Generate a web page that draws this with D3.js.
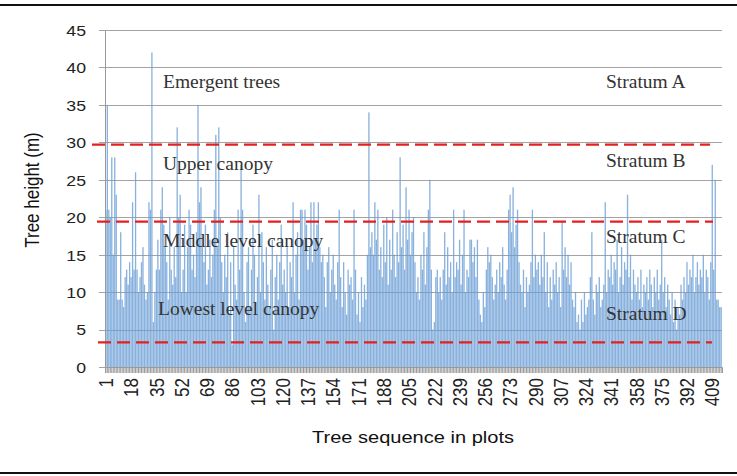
<!DOCTYPE html>
<html>
<head>
<meta charset="utf-8">
<script src="https://cdn.jsdelivr.net/npm/d3@7"></script>
<style>
    body { margin: 0; background: #fff; }
    svg { display: block; }
</style>
</head>
<body>
<div id="chart"><svg></svg></div>
<script>
// tree heights (m), one bar per tree in the plots
var heights = [
    21, 35, 21, 20, 28, 15, 28, 23, 9, 9, 18, 9, 8, 12, 13, 11, 14, 12, 22, 13,
    26, 13, 10, 12, 14, 16, 11, 9, 10, 22, 21, 42, 6, 10, 13, 17, 13, 21, 24, 19,
    16, 14, 9, 20, 13, 11, 16, 12, 32, 20, 23, 10, 13, 19, 10, 16, 21, 19, 13, 15,
    12, 18, 35, 22, 24, 16, 14, 19, 11, 13, 17, 12, 15, 21, 31, 16, 32, 20, 14, 10,
    15, 12, 18, 7, 14, 3, 16, 11, 9, 21, 13, 27, 21, 10, 6, 14, 16, 8, 13, 19,
    15, 7, 12, 23, 10, 18, 14, 9, 16, 11, 8, 13, 17, 5, 12, 15, 9, 14, 19, 11,
    13, 10, 16, 8, 14, 12, 22, 10, 15, 18, 9, 21, 21, 17, 21, 19, 13, 16, 22, 14,
    22, 17, 19, 22, 16, 14, 15, 12, 8, 14, 16, 10, 13, 15, 11, 9, 14, 21, 12, 8,
    14, 10, 7, 13, 11, 12, 9, 21, 13, 7, 10, 6, 12, 8, 11, 9, 15, 34, 16, 18,
    15, 22, 17, 21, 13, 16, 12, 19, 14, 20, 11, 17, 13, 21, 15, 12, 18, 14, 28, 16,
    19, 13, 24, 17, 21, 15, 18, 20, 14, 10, 12, 9, 15, 13, 18, 11, 16, 21, 25, 13,
    5, 6, 12, 13, 10, 12, 9, 13, 18, 11, 16, 12, 14, 10, 21, 12, 14, 13, 17, 11,
    15, 21, 10, 13, 12, 17, 17, 14, 16, 12, 17, 9, 7, 6, 10, 8, 13, 16, 14, 15,
    12, 9, 11, 13, 10, 14, 12, 16, 11, 9, 13, 21, 23, 18, 24, 16, 19, 21, 14, 11,
    10, 13, 8, 12, 10, 11, 14, 21, 12, 15, 13, 14, 11, 15, 12, 18, 10, 14, 8, 12,
    9, 13, 11, 14, 10, 12, 8, 19.5, 13, 16, 12, 15, 11, 14, 9, 8, 10, 6, 7, 5,
    9, 6, 10, 7, 8, 9, 12, 18, 9, 7, 11, 10, 12, 8, 9, 11, 22, 10, 13, 12,
    15, 11, 14, 13, 17, 10, 12, 16, 11, 14, 13, 23, 12, 15, 9, 13, 11, 10, 12, 9,
    13, 8, 11, 10, 12, 9, 13, 11, 8, 12, 10, 13, 9, 11, 17, 10, 12, 8, 11, 9,
    7, 10, 6, 9, 5, 8, 7, 11, 9, 12, 10, 14, 11, 13, 12, 15, 10, 12, 14, 11,
    13, 12, 15, 10, 13, 12, 9, 14, 27, 13, 25, 9, 9, 8, 8
];
var treeIds = heights.map(function(d, i) { return i + 1; });
var xTickLabels = treeIds.filter(function(d) { return (d - 1) % 17 == 0; });
var yTicks = [0, 5, 10, 15, 20, 25, 30, 35, 40, 45];

// stratum borders (m)
var borders = [29.7, 19.4, 3.3];
var borderStart = [-13, -8, -7];
var borderEnd = [-12, -9, -10];

// annotation texts and their baseline heights (m)
var zoneNames = ["Emergent trees", "Upper canopy", "Middle level canopy", "Lowest level canopy"];
var zoneLevels = [37.25, 26.3, 16.05, 6.95];
var strataNames = ["Stratum A", "Stratum B", "Stratum C", "Stratum D"];
var strataLevels = [37.25, 26.65, 16.5, 6.25];

var svgWidth = 737, svgHeight = 476;
var plotLeft = 105, plotRight = 722, plotTop = 30, plotBottom = 367;
var stretch = 1.18;  // the original figure is a bit wider than tall

var svg = d3.select("#chart").select("svg")
    .attr("width", svgWidth)
    .attr("height", svgHeight)
    .style("font-family", "'Liberation Sans', Arial, sans-serif");

var x = d3.scaleBand().domain(treeIds).range([plotLeft, plotRight]).padding(0.12);
var y = d3.scaleLinear().domain([0, 45]).range([plotBottom, plotTop]);

// frame lines
svg.selectAll(".frame")
    .data([5, 473])
    .enter().append("line")
    .attr("x1", 0).attr("x2", svgWidth)
    .attr("y1", function(d) { return d; })
    .attr("y2", function(d) { return d; })
    .attr("stroke", "#111")
    .attr("stroke-width", 2);

// grid
svg.selectAll(".grid")
    .data(yTicks)
    .enter().append("line")
    .attr("x1", plotLeft - 6).attr("x2", plotRight)
    .attr("y1", function(d) { return Math.round(y(d)) + 0.5; })
    .attr("y2", function(d) { return Math.round(y(d)) + 0.5; })
    .attr("stroke", "#a3a3a3")
    .attr("stroke-width", 1);

// bars
svg.selectAll(".bar")
    .data(heights)
    .enter().append("rect")
    .attr("x", function(d, i) { return x(treeIds[i]); })
    .attr("y", function(d) { return y(d); })
    .attr("width", x.bandwidth())
    .attr("height", function(d) { return y(0) - y(d); })
    .attr("fill", "#6a9dd6")
    .attr("fill-opacity", 0.8);

// y axis
var yAxis = svg.append("g")
    .attr("transform", "translate(" + plotLeft + ",0)")
    .call(d3.axisLeft(y).tickValues(yTicks).tickSize(0).tickPadding(0));
yAxis.select(".domain").attr("stroke", "#999");
yAxis.selectAll("text")
    .attr("x", 0).attr("dy", "0.36em")
    .attr("transform", "translate(-19,0) scale(" + stretch + ",1)")
    .attr("font-size", 15)
    .attr("fill", "#222");

// x axis: a tick under every tree, labels every 17th
var xBand = svg.append("g")
    .attr("transform", "translate(0," + plotBottom + ")")
    .call(d3.axisBottom(x).tickSize(6).tickFormat(""));
xBand.select(".domain").attr("stroke", "#999");
xBand.selectAll(".tick line").attr("stroke", "#9a9a9a");

var xAxis = svg.append("g")
    .attr("transform", "translate(0," + plotBottom + ")")
    .call(d3.axisBottom(x).tickValues(xTickLabels).tickSize(0));
xAxis.select(".domain").remove();
xAxis.selectAll("text")
    .attr("x", 0).attr("y", 0).attr("dy", "0.36em")
    .attr("text-anchor", "end")
    .attr("transform", "translate(0,11) scale(" + stretch + ",1) rotate(-90)")
    .attr("font-size", 17)
    .attr("fill", "#222");

// axis titles
svg.append("text")
    .attr("transform", "translate(32,190) scale(" + stretch + ",1) rotate(-90)")
    .attr("text-anchor", "middle")
    .attr("dy", "0.35em")
    .attr("font-size", 17)
    .attr("fill", "#111")
    .text("Tree height (m)");

svg.append("text")
    .attr("transform", "translate(413,443) scale(" + stretch + ",1)")
    .attr("text-anchor", "middle")
    .attr("font-size", 17)
    .attr("fill", "#111")
    .text("Tree sequence in plots");

// stratum borders
svg.selectAll(".border")
    .data(borders)
    .enter().append("line")
    .attr("x1", function(d, i) { return plotLeft + borderStart[i]; })
    .attr("x2", function(d, i) { return plotRight + borderEnd[i]; })
    .attr("y1", function(d) { return y(d); })
    .attr("y2", function(d) { return y(d); })
    .attr("stroke", "#e3201f")
    .attr("stroke-width", 2.2)
    .attr("stroke-dasharray", "13,6");

// canopy and stratum notes
svg.selectAll(".zone")
    .data(zoneNames)
    .enter().append("text")
    .attr("x", function(d, i) { return i == 3 ? 158 : 163; })
    .attr("y", function(d, i) { return y(zoneLevels[i]); })
    .attr("font-family", "'Liberation Serif', 'Times New Roman', serif")
    .attr("font-size", 19.5)
    .attr("fill", "#333")
    .text(function(d) { return d; });

svg.selectAll(".stratum")
    .data(strataNames)
    .enter().append("text")
    .attr("x", 606)
    .attr("y", function(d, i) { return y(strataLevels[i]); })
    .attr("font-family", "'Liberation Serif', 'Times New Roman', serif")
    .attr("font-size", 19.5)
    .attr("fill", "#333")
    .text(function(d) { return d; });
</script>
</body>
</html>
